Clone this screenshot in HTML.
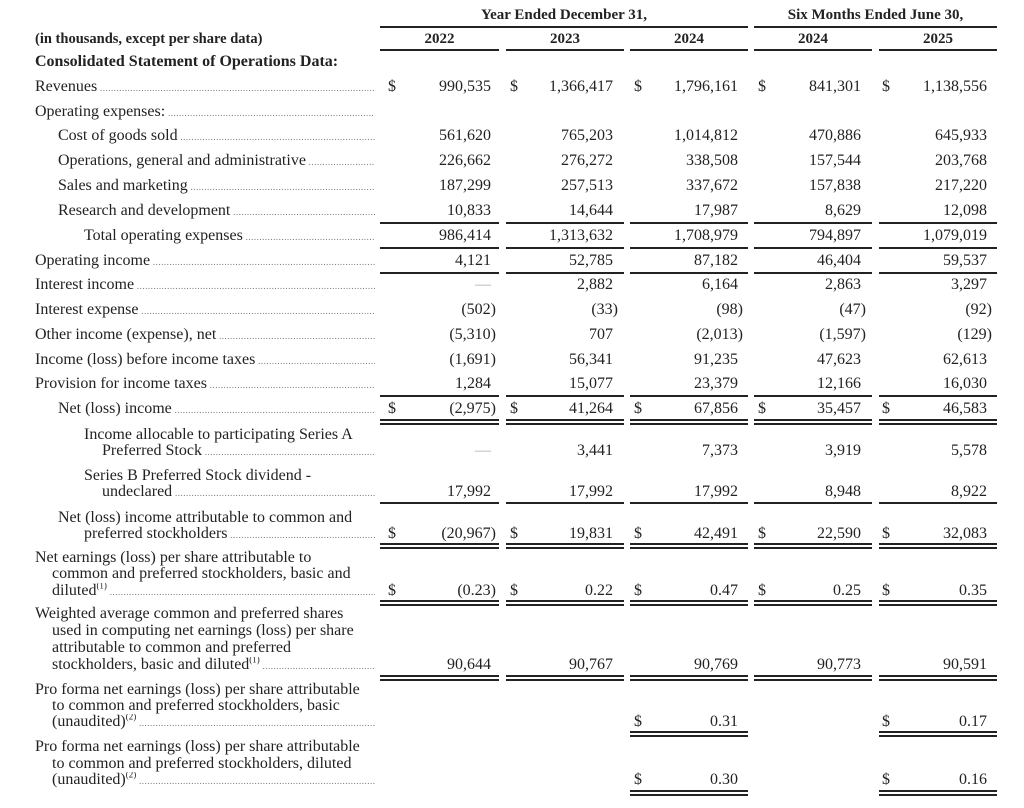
<!DOCTYPE html>
<html><head><meta charset="utf-8"><style>
body{margin:0;width:1024px;height:808px;background:#fff;position:relative;overflow:hidden;font-family:"Liberation Serif",serif;font-size:16px;color:#222}
div{position:absolute;white-space:nowrap;line-height:16px}
.b{font-weight:bold}
.h{font-weight:bold;text-align:center;font-size:15px}
.l{left:35px;width:340px;overflow:hidden}
.l::after{content:" ..................................................................................................................................................................";font-size:9px;color:#777;letter-spacing:0.5px}
.r{height:2px;background:#222}
.n{text-align:right}
</style></head><body>
<div class="h" style="left:380px;width:368px;top:7px">Year Ended December 31,</div>
<div class="h" style="left:754px;width:243px;top:7px">Six Months Ended June 30,</div>
<div class="r" style="left:380px;width:368px;top:26px"></div>
<div class="r" style="left:754px;width:243px;top:26px"></div>
<div class="b" style="left:35px;top:31px;font-size:14.5px">(in thousands, except per share data)</div>
<div class="h" style="left:380px;width:119px;top:31px">2022</div>
<div class="h" style="left:506px;width:118px;top:31px">2023</div>
<div class="h" style="left:630px;width:118px;top:31px">2024</div>
<div class="h" style="left:754px;width:118px;top:31px">2024</div>
<div class="h" style="left:879px;width:118px;top:31px">2025</div>
<div class="r" style="left:380px;width:119px;top:49px"></div>
<div class="r" style="left:506px;width:118px;top:49px"></div>
<div class="r" style="left:630px;width:118px;top:49px"></div>
<div class="r" style="left:754px;width:118px;top:49px"></div>
<div class="r" style="left:879px;width:118px;top:49px"></div>
<div class="b" style="left:35px;top:54px">Consolidated Statement of Operations Data:</div>

<div class="l" style="top:79px">Revenues</div>
<div class="l" style="top:104px;">Operating expenses:</div>
<div class="l" style="top:128px;left:58px;width:317px">Cost of goods sold</div>
<div class="l" style="top:153px;left:58px;width:317px">Operations, general and administrative</div>
<div class="l" style="top:178px;left:58px;width:317px">Sales and marketing</div>
<div class="l" style="top:203px;left:58px;width:317px">Research and development</div>
<div class="l" style="top:228px;left:84px;width:291px">Total operating expenses</div>
<div class="l" style="top:253px">Operating income</div>
<div class="l" style="top:277px">Interest income</div>
<div class="l" style="top:302px">Interest expense</div>
<div class="l" style="top:327px">Other income (expense), net</div>
<div class="l" style="top:352px">Income (loss) before income taxes</div>
<div class="l" style="top:376px">Provision for income taxes</div>
<div class="l" style="top:401px;left:58px;width:317px">Net (loss) income</div>
<div style="left:84px;top:427px">Income allocable to participating Series A</div>
<div class="l" style="top:443px;left:102px;width:273px">Preferred Stock</div>
<div style="left:84px;top:468px">Series B Preferred Stock dividend -</div>
<div class="l" style="top:484px;left:102px;width:273px">undeclared</div>
<div style="left:58px;top:510px">Net (loss) income attributable to common and</div>
<div class="l" style="top:526px;left:84px;width:291px">preferred stockholders</div>
<div style="left:35px;top:550px">Net earnings (loss) per share attributable to</div>
<div style="left:52px;top:566px">common and preferred stockholders, basic and</div>
<div class="l" style="top:583px;left:52px;width:323px">diluted<sup style="font-size:9px;line-height:0">(1)</sup></div>
<div style="left:35px;top:606px">Weighted average common and preferred shares</div>
<div style="left:52px;top:623px">used in computing net earnings (loss) per share</div>
<div style="left:52px;top:640px">attributable to common and preferred</div>
<div class="l" style="top:657px;left:52px;width:323px">stockholders, basic and diluted<sup style="font-size:9px;line-height:0">(1)</sup></div>
<div style="left:35px;top:682px">Pro forma net earnings (loss) per share attributable</div>
<div style="left:52px;top:698px">to common and preferred stockholders, basic</div>
<div class="l" style="top:714px;left:52px;width:323px">(unaudited)<sup style="font-size:9px;line-height:0">(2)</sup></div>
<div style="left:35px;top:739px">Pro forma net earnings (loss) per share attributable</div>
<div style="left:52px;top:756px">to common and preferred stockholders, diluted</div>
<div class="l" style="top:772px;left:52px;width:323px">(unaudited)<sup style="font-size:9px;line-height:0">(2)</sup></div>

<div style="left:388px;top:79px">$</div><div style="left:510px;top:79px">$</div><div style="left:634px;top:79px">$</div><div style="left:758px;top:79px">$</div><div style="left:882px;top:79px">$</div>
<div style="left:388px;top:401px">$</div><div style="left:510px;top:401px">$</div><div style="left:634px;top:401px">$</div><div style="left:758px;top:401px">$</div><div style="left:882px;top:401px">$</div>
<div style="left:388px;top:526px">$</div><div style="left:510px;top:526px">$</div><div style="left:634px;top:526px">$</div><div style="left:758px;top:526px">$</div><div style="left:882px;top:526px">$</div>
<div style="left:388px;top:583px">$</div><div style="left:510px;top:583px">$</div><div style="left:634px;top:583px">$</div><div style="left:758px;top:583px">$</div><div style="left:882px;top:583px">$</div>
<div style="left:634px;top:714px">$</div><div style="left:882px;top:714px">$</div>
<div style="left:634px;top:772px">$</div><div style="left:882px;top:772px">$</div>

<div class="n" style="right:533px;top:79px">990,535</div><div class="n" style="right:411px;top:79px">1,366,417</div><div class="n" style="right:286px;top:79px">1,796,161</div><div class="n" style="right:163px;top:79px">841,301</div><div class="n" style="right:37px;top:79px">1,138,556</div>
<div class="n" style="right:533px;top:128px">561,620</div><div class="n" style="right:411px;top:128px">765,203</div><div class="n" style="right:286px;top:128px">1,014,812</div><div class="n" style="right:163px;top:128px">470,886</div><div class="n" style="right:37px;top:128px">645,933</div>
<div class="n" style="right:533px;top:153px">226,662</div><div class="n" style="right:411px;top:153px">276,272</div><div class="n" style="right:286px;top:153px">338,508</div><div class="n" style="right:163px;top:153px">157,544</div><div class="n" style="right:37px;top:153px">203,768</div>
<div class="n" style="right:533px;top:178px">187,299</div><div class="n" style="right:411px;top:178px">257,513</div><div class="n" style="right:286px;top:178px">337,672</div><div class="n" style="right:163px;top:178px">157,838</div><div class="n" style="right:37px;top:178px">217,220</div>
<div class="n" style="right:533px;top:203px">10,833</div><div class="n" style="right:411px;top:203px">14,644</div><div class="n" style="right:286px;top:203px">17,987</div><div class="n" style="right:163px;top:203px">8,629</div><div class="n" style="right:37px;top:203px">12,098</div>
<div class="n" style="right:533px;top:228px">986,414</div><div class="n" style="right:411px;top:228px">1,313,632</div><div class="n" style="right:286px;top:228px">1,708,979</div><div class="n" style="right:163px;top:228px">794,897</div><div class="n" style="right:37px;top:228px">1,079,019</div>
<div class="n" style="right:533px;top:253px">4,121</div><div class="n" style="right:411px;top:253px">52,785</div><div class="n" style="right:286px;top:253px">87,182</div><div class="n" style="right:163px;top:253px">46,404</div><div class="n" style="right:37px;top:253px">59,537</div>
<div class="n" style="right:533px;top:277px;color:#aaa">—</div><div class="n" style="right:411px;top:277px">2,882</div><div class="n" style="right:286px;top:277px">6,164</div><div class="n" style="right:163px;top:277px">2,863</div><div class="n" style="right:37px;top:277px">3,297</div>
<div class="n" style="right:528px;top:302px">(502)</div><div class="n" style="right:406px;top:302px">(33)</div><div class="n" style="right:281px;top:302px">(98)</div><div class="n" style="right:158px;top:302px">(47)</div><div class="n" style="right:32px;top:302px">(92)</div>
<div class="n" style="right:528px;top:327px">(5,310)</div><div class="n" style="right:411px;top:327px">707</div><div class="n" style="right:281px;top:327px">(2,013)</div><div class="n" style="right:158px;top:327px">(1,597)</div><div class="n" style="right:32px;top:327px">(129)</div>
<div class="n" style="right:528px;top:352px">(1,691)</div><div class="n" style="right:411px;top:352px">56,341</div><div class="n" style="right:286px;top:352px">91,235</div><div class="n" style="right:163px;top:352px">47,623</div><div class="n" style="right:37px;top:352px">62,613</div>
<div class="n" style="right:533px;top:376px">1,284</div><div class="n" style="right:411px;top:376px">15,077</div><div class="n" style="right:286px;top:376px">23,379</div><div class="n" style="right:163px;top:376px">12,166</div><div class="n" style="right:37px;top:376px">16,030</div>
<div class="n" style="right:528px;top:401px">(2,975)</div><div class="n" style="right:411px;top:401px">41,264</div><div class="n" style="right:286px;top:401px">67,856</div><div class="n" style="right:163px;top:401px">35,457</div><div class="n" style="right:37px;top:401px">46,583</div>
<div class="n" style="right:533px;top:443px;color:#aaa">—</div><div class="n" style="right:411px;top:443px">3,441</div><div class="n" style="right:286px;top:443px">7,373</div><div class="n" style="right:163px;top:443px">3,919</div><div class="n" style="right:37px;top:443px">5,578</div>
<div class="n" style="right:533px;top:484px">17,992</div><div class="n" style="right:411px;top:484px">17,992</div><div class="n" style="right:286px;top:484px">17,992</div><div class="n" style="right:163px;top:484px">8,948</div><div class="n" style="right:37px;top:484px">8,922</div>
<div class="n" style="right:528px;top:526px">(20,967)</div><div class="n" style="right:411px;top:526px">19,831</div><div class="n" style="right:286px;top:526px">42,491</div><div class="n" style="right:163px;top:526px">22,590</div><div class="n" style="right:37px;top:526px">32,083</div>
<div class="n" style="right:528px;top:583px">(0.23)</div><div class="n" style="right:411px;top:583px">0.22</div><div class="n" style="right:286px;top:583px">0.47</div><div class="n" style="right:163px;top:583px">0.25</div><div class="n" style="right:37px;top:583px">0.35</div>
<div class="n" style="right:533px;top:657px">90,644</div><div class="n" style="right:411px;top:657px">90,767</div><div class="n" style="right:286px;top:657px">90,769</div><div class="n" style="right:163px;top:657px">90,773</div><div class="n" style="right:37px;top:657px">90,591</div>
<div class="n" style="right:286px;top:714px">0.31</div><div class="n" style="right:37px;top:714px">0.17</div>
<div class="n" style="right:286px;top:772px">0.30</div><div class="n" style="right:37px;top:772px">0.16</div>

<svg style="position:absolute;left:0;top:0" width="1024" height="808">
<g fill="#222">
<rect x="380" y="222" width="119" height="2"/><rect x="506" y="222" width="118" height="2"/><rect x="630" y="222" width="118" height="2"/><rect x="754" y="222" width="118" height="2"/><rect x="879" y="222" width="118" height="2"/>
<rect x="380" y="247" width="119" height="2"/><rect x="506" y="247" width="118" height="2"/><rect x="630" y="247" width="118" height="2"/><rect x="754" y="247" width="118" height="2"/><rect x="879" y="247" width="118" height="2"/>
<rect x="380" y="272" width="119" height="2"/><rect x="506" y="272" width="118" height="2"/><rect x="630" y="272" width="118" height="2"/><rect x="754" y="272" width="118" height="2"/><rect x="879" y="272" width="118" height="2"/>
<rect x="380" y="395" width="119" height="2"/><rect x="506" y="395" width="118" height="2"/><rect x="630" y="395" width="118" height="2"/><rect x="754" y="395" width="118" height="2"/><rect x="879" y="395" width="118" height="2"/>
<rect x="380" y="502" width="119" height="2"/><rect x="506" y="502" width="118" height="2"/><rect x="630" y="502" width="118" height="2"/><rect x="754" y="502" width="118" height="2"/><rect x="879" y="502" width="118" height="2"/>
<rect x="380" y="419" width="119" height="2"/><rect x="506" y="419" width="118" height="2"/><rect x="630" y="419" width="118" height="2"/><rect x="754" y="419" width="118" height="2"/><rect x="879" y="419" width="118" height="2"/>
<rect x="380" y="423" width="119" height="2"/><rect x="506" y="423" width="118" height="2"/><rect x="630" y="423" width="118" height="2"/><rect x="754" y="423" width="118" height="2"/><rect x="879" y="423" width="118" height="2"/>
<rect x="380" y="543" width="119" height="2"/><rect x="506" y="543" width="118" height="2"/><rect x="630" y="543" width="118" height="2"/><rect x="754" y="543" width="118" height="2"/><rect x="879" y="543" width="118" height="2"/>
<rect x="380" y="547" width="119" height="2"/><rect x="506" y="547" width="118" height="2"/><rect x="630" y="547" width="118" height="2"/><rect x="754" y="547" width="118" height="2"/><rect x="879" y="547" width="118" height="2"/>
<rect x="380" y="600" width="119" height="2"/><rect x="506" y="600" width="118" height="2"/><rect x="630" y="600" width="118" height="2"/><rect x="754" y="600" width="118" height="2"/><rect x="879" y="600" width="118" height="2"/>
<rect x="380" y="604" width="119" height="2"/><rect x="506" y="604" width="118" height="2"/><rect x="630" y="604" width="118" height="2"/><rect x="754" y="604" width="118" height="2"/><rect x="879" y="604" width="118" height="2"/>
<rect x="380" y="675" width="119" height="2"/><rect x="506" y="675" width="118" height="2"/><rect x="630" y="675" width="118" height="2"/><rect x="754" y="675" width="118" height="2"/><rect x="879" y="675" width="118" height="2"/>
<rect x="380" y="679" width="119" height="2"/><rect x="506" y="679" width="118" height="2"/><rect x="630" y="679" width="118" height="2"/><rect x="754" y="679" width="118" height="2"/><rect x="879" y="679" width="118" height="2"/>
<rect x="630" y="731" width="118" height="2"/><rect x="879" y="731" width="118" height="2"/>
<rect x="630" y="735" width="118" height="2"/><rect x="879" y="735" width="118" height="2"/>
<rect x="630" y="790" width="118" height="2"/><rect x="879" y="790" width="118" height="2"/>
<rect x="630" y="794" width="118" height="2"/><rect x="879" y="794" width="118" height="2"/>
</g>
</svg>
</body></html>
